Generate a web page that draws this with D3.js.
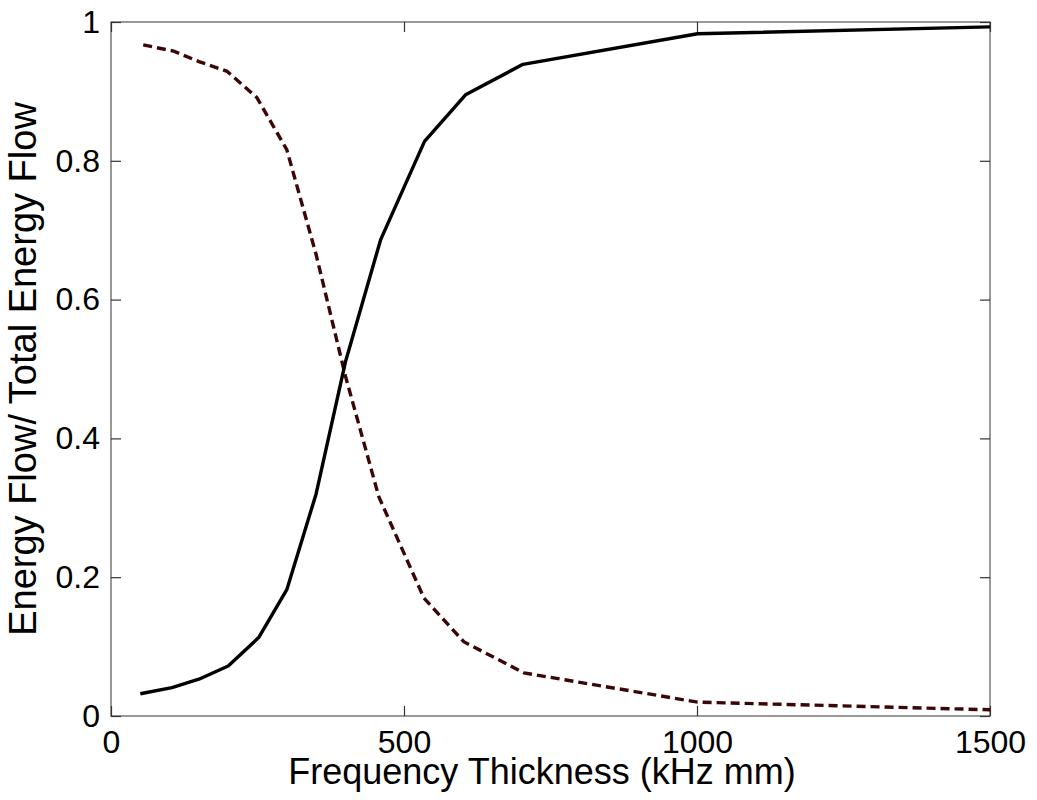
<!DOCTYPE html>
<html>
<head>
<meta charset="utf-8">
<script src="https://cdn.jsdelivr.net/npm/d3@7"></script>
<style>
  body { margin: 0; background: #fff; }
  text { font-family: "Liberation Sans", Arial, sans-serif; fill: #000; }
</style>
</head>
<body>
<div id="chart"></div>
<script>
// frequency-thickness values (kHz mm)
const fdSolid  = [50, 104, 150, 200, 252, 300, 350, 400, 460, 535, 605, 703, 1001, 1500]
const solidVal = [0.032, 0.041, 0.053, 0.072, 0.113, 0.182, 0.32, 0.51, 0.686, 0.828, 0.895, 0.939, 0.983, 0.993]
const fdDash   = [55, 107, 150, 198, 249, 300, 350, 400, 457, 534, 602, 705, 1001, 1500]
const dashVal  = [0.967, 0.958, 0.943, 0.929, 0.891, 0.816, 0.665, 0.49, 0.316, 0.17, 0.107, 0.062, 0.02, 0.009]
const xTicks = [0, 500, 1000, 1500]
const yTicks = [0, 0.2, 0.4, 0.6, 0.8, 1]

let width = 1037
let height = 800
let margin = {top: 22, right: 47, bottom: 84, left: 111}
let innerWidth = width - margin.left - margin.right
let innerHeight = height - margin.top - margin.bottom

let svg = d3.select('#chart').append('svg')
  .attr('width', width)
  .attr('height', height)

let g = svg.append('g').attr('transform', `translate(${margin.left},${margin.top})`)

let xScale = d3.scaleLinear().domain([0, 1500]).range([0, innerWidth])
let yScale = d3.scaleLinear().domain([0, 1]).range([innerHeight, 0])

// box
g.append('rect')
  .attr('width', innerWidth)
  .attr('height', innerHeight)
  .attr('fill', 'none')
  .attr('stroke', '#555')
  .attr('stroke-width', 1.2)

let fmt = d => d === 1 ? '1' : (d === 0 ? '0' : d3.format('.1f')(d))

let axisStyle = function (sel) {
  sel.select('.domain').remove()
  sel.selectAll('.tick line').attr('stroke', '#333').attr('stroke-width', 1.2)
  sel.selectAll('text').style('font-size', '32px')
}

g.append('g')
  .attr('transform', `translate(0,${innerHeight})`)
  .call(d3.axisBottom(xScale).tickValues(xTicks).tickSizeInner(-10).tickSizeOuter(0).tickPadding(14).tickFormat(d3.format('d')))
  .call(axisStyle)

g.append('g')
  .call(d3.axisTop(xScale).tickValues(xTicks).tickSizeInner(-10).tickSizeOuter(0).tickFormat(''))
  .call(axisStyle)

g.append('g')
  .call(d3.axisLeft(yScale).tickValues(yTicks).tickSizeInner(-10).tickSizeOuter(0).tickPadding(11).tickFormat(fmt))
  .call(axisStyle)

g.append('g')
  .attr('transform', `translate(${innerWidth},0)`)
  .call(d3.axisRight(yScale).tickValues(yTicks).tickSizeInner(-10).tickSizeOuter(0).tickFormat(''))
  .call(axisStyle)

let line = d3.line()
  .x(d => xScale(d[0]))
  .y(d => yScale(d[1]))

g.append('path')
  .datum(fdDash.map((x, i) => [x, dashVal[i]]))
  .attr('d', line)
  .attr('fill', 'none')
  .attr('stroke', '#3c0606')
  .attr('stroke-width', 3.4)
  .attr('stroke-dasharray', '9,5')

g.append('path')
  .datum(fdSolid.map((x, i) => [x, solidVal[i]]))
  .attr('d', line)
  .attr('fill', 'none')
  .attr('stroke', '#000')
  .attr('stroke-width', 3.4)
  .attr('stroke-linejoin', 'round')

svg.append('text')
  .attr('text-anchor', 'middle')
  .attr('x', 542)
  .attr('y', 784)
  .style('font-size', '36px')
  .text('Frequency Thickness (kHz mm)')

svg.append('text')
  .attr('text-anchor', 'middle')
  .attr('transform', `translate(36,${margin.top + innerHeight / 2}) rotate(-90)`)
  .style('font-size', '38px')
  .text('Energy Flow/ Total Energy Flow')
</script>
</body>
</html>
